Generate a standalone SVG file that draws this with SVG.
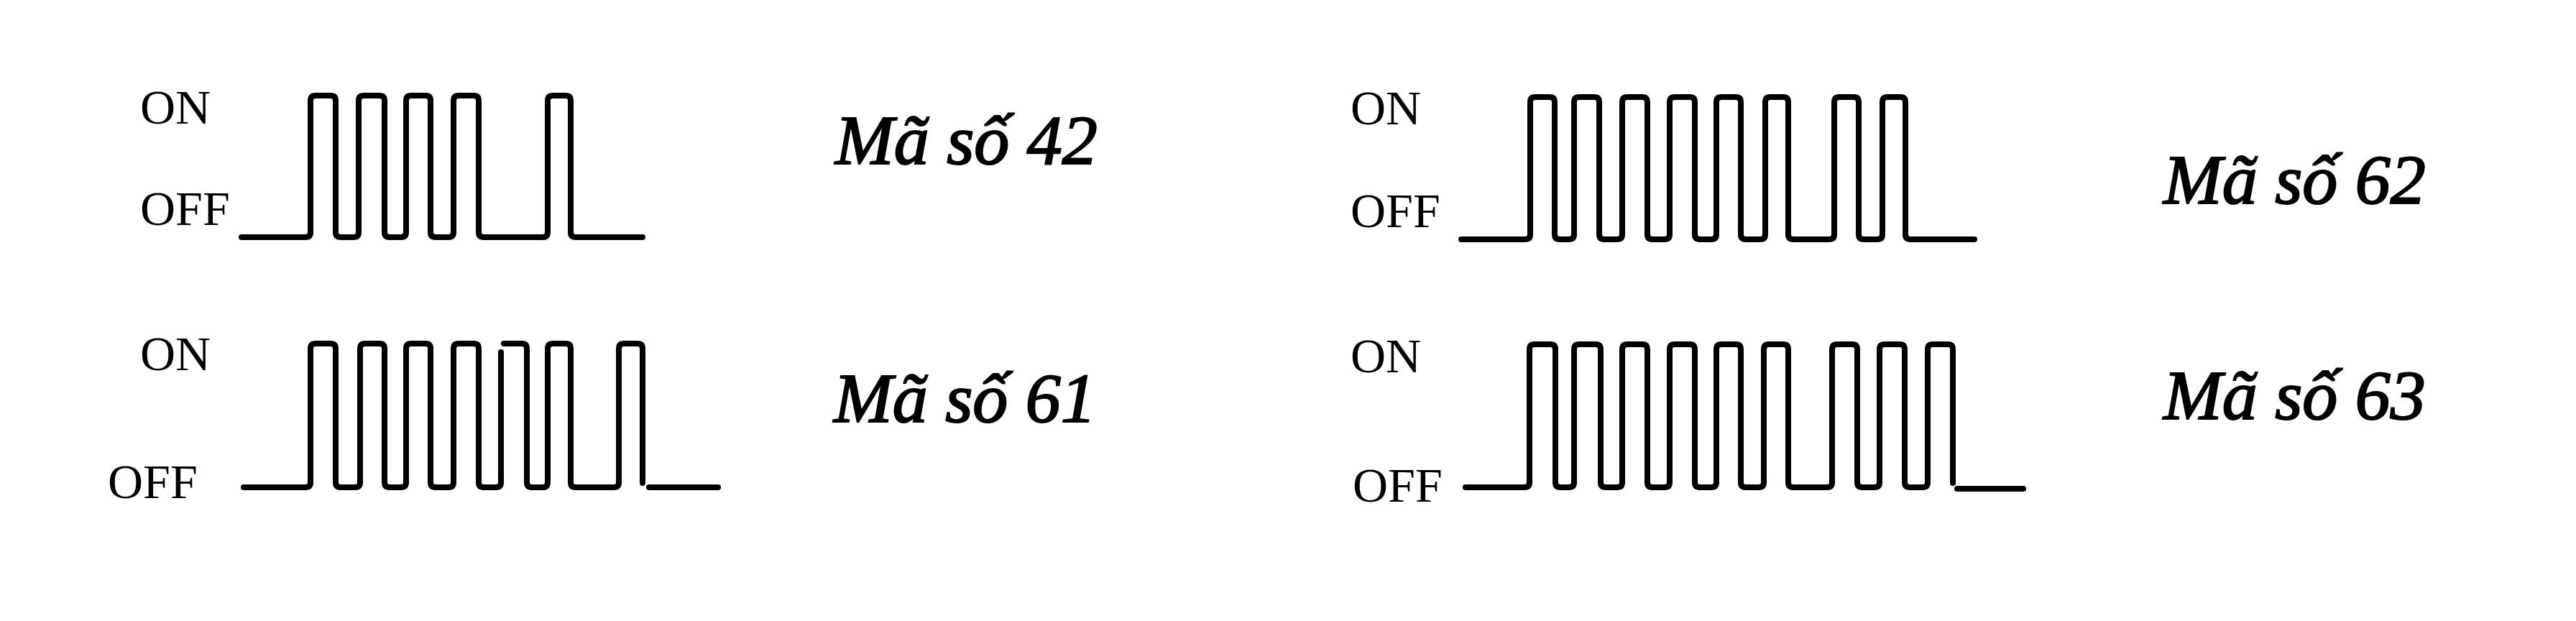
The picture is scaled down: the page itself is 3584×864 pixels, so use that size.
<svg xmlns="http://www.w3.org/2000/svg" width="3584" height="864" viewBox="0 0 3584 864">
<style>
.lvl{font-family:"Liberation Serif","Times New Roman",serif;font-size:68px;fill:#000}
.code{font-family:"Liberation Serif","Times New Roman",serif;font-style:italic;font-size:98px;fill:#000;stroke:#000;stroke-width:2.2}
.wave{fill:none;stroke:#000;stroke-width:8;stroke-linejoin:round;stroke-linecap:round}
</style>
<rect width="3584" height="864" fill="#fff"/>
<g id="code42">
<text class="lvl" x="195" y="172">ON</text>
<text class="lvl" x="195" y="313">OFF</text>
<path class="wave" d="M336,330 L425,330 Q432,330 432,323 L432,140 Q432,133 439,133 L460,133 Q467,133 467,140 L467,323 Q467,330 474,330 L492,330 Q499,330 499,323 L499,140 Q499,133 506,133 L528,133 Q535,133 535,140 L535,323 Q535,330 542,330 L558,330 Q565,330 565,323 L565,140 Q565,133 572,133 L592,133 Q599,133 599,140 L599,323 Q599,330 606,330 L624,330 Q631,330 631,323 L631,140 Q631,133 638,133 L659,133 Q666,133 666,140 L666,323 Q666,330 673,330 L755,330 Q762,330 762,323 L762,140 Q762,133 769,133 L787,133 Q794,133 794,140 L794,323 Q794,330 801,330 L894,330"/>
<text class="code" x="1162" y="228">Mã số 42</text>
</g>
<g id="code61">
<text class="lvl" x="195" y="515">ON</text>
<text class="lvl" x="150" y="693">OFF</text>
<path class="wave" d="M339,678 L425,678 Q432,678 432,671 L432,485 Q432,478 439,478 L460,478 Q467,478 467,485 L467,671 Q467,678 474,678 L494,678 Q501,678 501,671 L501,485 Q501,478 508,478 L528,478 Q535,478 535,485 L535,671 Q535,678 542,678 L558,678 Q565,678 565,671 L565,485 Q565,478 572,478 L592,478 Q599,478 599,485 L599,671 Q599,678 606,678 L624,678 Q631,678 631,671 L631,485 Q631,478 638,478 L659,478 Q666,478 666,485 L666,671 Q666,678 673,678 L690,678 Q697,678 697,671 L697,490 M701,478 L726,478 Q733,478 733,485 L733,671 Q733,678 740,678 L755,678 Q762,678 762,671 L762,485 Q762,478 769,478 L787,478 Q794,478 794,485 L794,671 Q794,678 801,678 L854,678 Q861,678 861,671 L861,485 Q861,478 868,478 L887,478 Q894,478 894,485 L894,672 M903,678 L999,678"/>
<text class="code" x="1160" y="587">Mã số 61</text>
</g>
<g id="code62">
<text class="lvl" x="1879" y="173">ON</text>
<text class="lvl" x="1879" y="316">OFF</text>
<path class="wave" d="M2033,333 L2122,333 Q2129,333 2129,326 L2129,142 Q2129,135 2136,135 L2156,135 Q2163,135 2163,142 L2163,326 Q2163,333 2170,333 L2183,333 Q2190,333 2190,326 L2190,142 Q2190,135 2197,135 L2218,135 Q2225,135 2225,142 L2225,326 Q2225,333 2232,333 L2250,333 Q2257,333 2257,326 L2257,142 Q2257,135 2264,135 L2285,135 Q2292,135 2292,142 L2292,326 Q2292,333 2299,333 L2316,333 Q2323,333 2323,326 L2323,142 Q2323,135 2330,135 L2351,135 Q2358,135 2358,142 L2358,326 Q2358,333 2365,333 L2381,333 Q2388,333 2388,326 L2388,142 Q2388,135 2395,135 L2415,135 Q2422,135 2422,142 L2422,326 Q2422,333 2429,333 L2449,333 Q2456,333 2456,326 L2456,142 Q2456,135 2463,135 L2481,135 Q2488,135 2488,142 L2488,326 Q2488,333 2495,333 L2545,333 Q2552,333 2552,326 L2552,142 Q2552,135 2559,135 L2579,135 Q2586,135 2586,142 L2586,326 Q2586,333 2593,333 L2612,333 Q2619,333 2619,326 L2619,142 Q2619,135 2626,135 L2644,135 Q2651,135 2651,142 L2651,326 Q2651,333 2658,333 L2747,333"/>
<text class="code" x="3010" y="283">Mã số 62</text>
</g>
<g id="code63">
<text class="lvl" x="1879" y="518">ON</text>
<text class="lvl" x="1882" y="698">OFF</text>
<path class="wave" d="M2039,678 L2121,678 Q2128,678 2128,671 L2128,486 Q2128,479 2135,479 L2157,479 Q2164,479 2164,486 L2164,671 Q2164,678 2171,678 L2183,678 Q2190,678 2190,671 L2190,486 Q2190,479 2197,479 L2220,479 Q2227,479 2227,486 L2227,671 Q2227,678 2234,678 L2250,678 Q2257,678 2257,671 L2257,486 Q2257,479 2264,479 L2285,479 Q2292,479 2292,486 L2292,671 Q2292,678 2299,678 L2316,678 Q2323,678 2323,671 L2323,486 Q2323,479 2330,479 L2351,479 Q2358,479 2358,486 L2358,671 Q2358,678 2365,678 L2381,678 Q2388,678 2388,671 L2388,486 Q2388,479 2395,479 L2415,479 Q2422,479 2422,486 L2422,671 Q2422,678 2429,678 L2447,678 Q2454,678 2454,671 L2454,486 Q2454,479 2461,479 L2481,479 Q2488,479 2488,486 L2488,671 Q2488,678 2495,678 L2542,678 Q2549,678 2549,671 L2549,486 Q2549,479 2556,479 L2577,479 Q2584,479 2584,486 L2584,671 Q2584,678 2591,678 L2608,678 Q2615,678 2615,671 L2615,486 Q2615,479 2622,479 L2643,479 Q2650,479 2650,486 L2650,671 Q2650,678 2657,678 L2675,678 Q2682,678 2682,671 L2682,486 Q2682,479 2689,479 L2710,479 Q2717,479 2717,486 L2717,672 M2723,680 L2815,680"/>
<text class="code" x="3010" y="583">Mã số 63</text>
</g>
<g id="connectors"/>
</svg>
